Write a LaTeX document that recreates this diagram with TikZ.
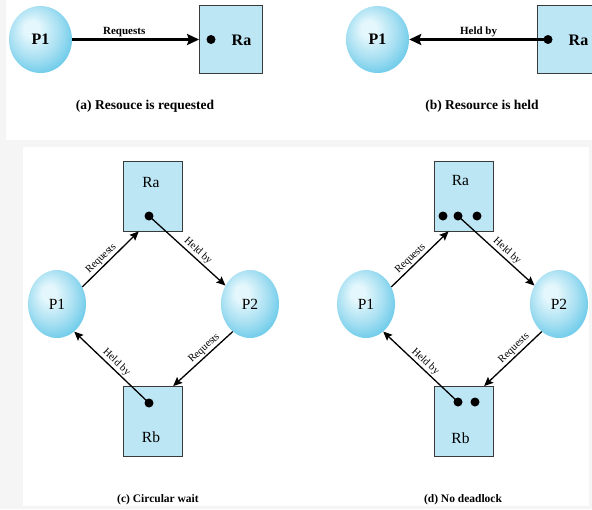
\documentclass[tikz,border=0pt]{standalone}
\usepackage{fontspec}
\setmainfont{Liberation Serif}
\usetikzlibrary{arrows.meta,calc,shapes.geometric}
\definecolor{procin}{HTML}{E4F7FC}
\definecolor{procmid}{HTML}{A6DFF2}
\definecolor{procout}{HTML}{5CC5E7}
\definecolor{resfill}{HTML}{BDE6F4}
\definecolor{resedge}{HTML}{3A3A3A}
\definecolor{panelgray}{HTML}{F5F5F5}
\pgfdeclareradialshading{procshade}{\pgfpoint{-8bp}{9bp}}{color(0bp)=(procin); color(6bp)=(procin); color(20bp)=(procmid); color(33bp)=(procout); color(50bp)=(procout)}
\tikzset{
  proc/.style={ellipse, shading=procshade, inner sep=0pt, minimum width=58pt, minimum height=68pt, font=\fontsize{15.5}{15.5}\selectfont},
  bigproc/.style={proc, minimum width=63pt, minimum height=67pt, font=\bfseries\fontsize{16}{16}\selectfont},
  res/.style={draw=resedge, fill=resfill, line width=0.9pt, inner sep=0pt, minimum width=59pt, minimum height=70pt},
  bigres/.style={res, minimum width=63pt, minimum height=68pt},
  restxt/.style={inner sep=0pt, font=\fontsize{15.5}{15.5}\selectfont},
  bigrestxt/.style={restxt, font=\bfseries\fontsize{16}{16}\selectfont},
  tok/.style={circle, fill=black, inner sep=0pt, minimum size=9pt},
  bigarrow/.style={line width=2.6pt, -{Stealth[length=12pt,width=11pt,inset=2pt]}},
  smallarrow/.style={line width=1.3pt, -{Stealth[length=9pt,width=8pt,inset=1.5pt]}},
  biglab/.style={font=\bfseries\fontsize{11}{11}\selectfont, inner sep=1.5pt},
  lab/.style={font=\fontsize{10.5}{10.5}\selectfont, inner sep=1.5pt, sloped},
  caption/.style={font=\bfseries\fontsize{13.5}{13.5}\selectfont},
  smallcaption/.style={font=\bfseries\fontsize{11.5}{11.5}\selectfont}
}
\begin{document}
\begin{tikzpicture}[x=1pt,y=-1pt]
  \clip (0,0) rectangle (592,509);
  \fill[panelgray] (0,0) rectangle (592,509);
  \fill[white] (6,0) rectangle (592,140);
  \fill[white] (23,147) rectangle (589,506);

  % (a)
  \node[bigproc] (p1a) at (40.5,39.5) {P1};
  \node[bigres] (raa) at (231,39.5) {};
  \node[tok] (ta) at (211,39.5) {};
  \node[bigrestxt] (raat) at (241.5,40) {Ra};
  \draw[bigarrow] (p1a) -- (raa) node[biglab, pos=0.41, above] {Requests};
  \node[caption] (capa) at (145,106) {(a) Resouce is requested};

  % (b)
  \node[bigproc] (p1b) at (377.5,39.5) {P1};
  \node[bigres] (rab) at (568.5,39.5) {};
  \node[tok] (tb) at (548,39.5) {};
  \node[bigrestxt] (rabt) at (578.5,40) {Ra};
  \draw[bigarrow] (tb.center) -- (p1b) node[biglab, pos=0.5, above] {Held by};
  \node[caption] (capb) at (482,106) {(b) Resource is held};

  % (c)
  \node[proc] (p1c) at (57,304) {P1};
  \node[proc] (p2c) at (250,304) {P2};
  \node[res] (rac) at (152.5,196) {};
  \node[res] (rbc) at (152.5,421.5) {};
  \node[restxt] (ract) at (151,182) {Ra};
  \node[restxt] (rbct) at (151,437) {Rb};
  \node[tok] (tac) at (149,216) {};
  \node[tok] (tbc) at (149,403) {};
  \draw[smallarrow] (p1c.34) -- ($(rac.south)!0.46!(rac.south west)$) node[lab, pos=0.42, above] {Requests};
  \draw[smallarrow] (tac.center) -- (p2c.143) node[lab, pos=0.58, above] {Held by};
  \draw[smallarrow] (p2c.238) -- ($(rbc.north)!0.69!(rbc.north east)$) node[lab, pos=0.4, above] {Requests};
  \draw[smallarrow] (tbc.center) -- (p1c.-58) node[lab, pos=0.5, above] {Held by};
  \node[smallcaption] (capc) at (158,500) {(c) Circular wait};

  % (d)
  \node[proc] (p1d) at (366,304) {P1};
  \node[proc] (p2d) at (559,304) {P2};
  \node[res] (rad) at (463.5,196) {};
  \node[res] (rbd) at (463.5,421.5) {};
  \node[restxt] (radt) at (460.5,180) {Ra};
  \node[restxt] (rbdt) at (460.5,438) {Rb};
  \foreach \n/\x in {1/443,2/458,3/477}
    \node[tok] (tad\n) at (\x,216) {};
  \foreach \n/\x in {1/458,2/475}
    \node[tok] (tbd\n) at (\x,402) {};
  \draw[smallarrow] (p1d.34) -- ($(rad.south)!0.5!(rad.south west)$) node[lab, pos=0.42, above] {Requests};
  \draw[smallarrow] (tad2.center) -- (p2d.143) node[lab, pos=0.58, above] {Held by};
  \draw[smallarrow] (p2d.238) -- ($(rbd.north)!0.69!(rbd.north east)$) node[lab, pos=0.4, above] {Requests};
  \draw[smallarrow] (tbd1.center) -- (p1d.-58) node[lab, pos=0.5, above] {Held by};
  \node[smallcaption] (capd) at (463,500) {(d) No deadlock};
\end{tikzpicture}
\end{document}
